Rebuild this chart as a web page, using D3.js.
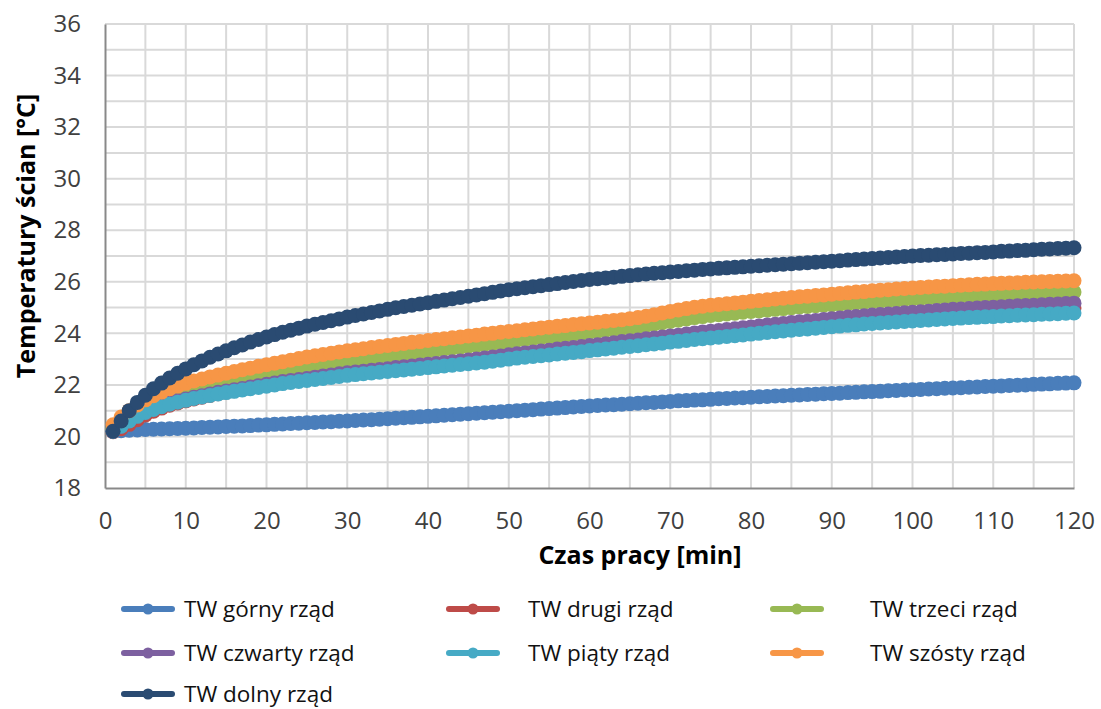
<!DOCTYPE html>
<html>
<head>
<meta charset="utf-8">
<script src="https://cdn.jsdelivr.net/npm/d3@7"></script>
<style>
  html, body { margin: 0; padding: 0; background: #fff; }
  svg { display: block; }
  text { font-family: "Open Sans", "Noto Sans", sans-serif; }
</style>
</head>
<body>
<svg id="chart" width="1101" height="709"></svg>
<script>
// ---- data ----
const minutes = d3.range(1, 121);
const gorny = [20.20,20.22,20.24,20.25,20.27,20.28,20.29,20.30,20.31,20.32,
20.33,20.35,20.36,20.37,20.39,20.40,20.41,20.42,20.44,20.45,
20.47,20.48,20.50,20.51,20.53,20.54,20.56,20.57,20.59,20.60,
20.62,20.64,20.65,20.67,20.69,20.71,20.73,20.74,20.76,20.78,
20.80,20.82,20.84,20.86,20.88,20.90,20.92,20.94,20.96,20.98,
21.00,21.02,21.04,21.06,21.08,21.10,21.12,21.14,21.16,21.18,
21.20,21.22,21.23,21.25,21.27,21.29,21.31,21.32,21.34,21.36,
21.38,21.39,21.41,21.42,21.44,21.46,21.47,21.49,21.50,21.52,
21.54,21.55,21.57,21.58,21.60,21.61,21.63,21.64,21.66,21.67,
21.68,21.70,21.71,21.73,21.74,21.75,21.77,21.78,21.80,21.81,
21.82,21.84,21.85,21.87,21.88,21.89,21.91,21.92,21.94,21.95,
21.96,21.98,21.99,22.00,22.02,22.03,22.04,22.06,22.07,22.08];
const drugi = [20.18,20.30,20.47,20.65,20.83,20.98,21.10,21.21,21.30,21.38,
21.45,21.52,21.59,21.66,21.72,21.77,21.83,21.88,21.93,21.98,
22.03,22.09,22.13,22.17,22.21,22.26,22.30,22.34,22.38,22.42,
22.45,22.48,22.52,22.55,22.58,22.61,22.64,22.67,22.70,22.73,
22.77,22.80,22.83,22.86,22.89,22.92,22.96,23.00,23.04,23.08,
23.12,23.15,23.19,23.22,23.25,23.29,23.32,23.35,23.39,23.43,
23.46,23.50,23.53,23.57,23.60,23.63,23.67,23.70,23.74,23.78,
23.81,23.84,23.88,23.92,23.95,23.98,24.01,24.04,24.08,24.11,
24.14,24.17,24.20,24.23,24.27,24.30,24.32,24.35,24.38,24.41,
24.43,24.47,24.49,24.52,24.54,24.56,24.58,24.60,24.63,24.65,
24.67,24.69,24.71,24.73,24.75,24.76,24.78,24.80,24.82,24.83,
24.85,24.86,24.88,24.89,24.90,24.92,24.94,24.95,24.97,24.98];
const trzeci = [20.30,20.55,20.80,21.01,21.20,21.35,21.48,21.60,21.70,21.79,
21.87,21.94,22.01,22.07,22.13,22.19,22.25,22.31,22.37,22.43,
22.50,22.56,22.61,22.66,22.71,22.76,22.80,22.85,22.90,22.94,
22.98,23.02,23.06,23.10,23.13,23.17,23.21,23.24,23.28,23.31,
23.36,23.39,23.43,23.46,23.50,23.53,23.57,23.60,23.64,23.68,
23.73,23.76,23.80,23.83,23.86,23.90,23.93,23.97,24.00,24.04,
24.08,24.12,24.15,24.19,24.22,24.26,24.31,24.36,24.41,24.46,
24.51,24.56,24.61,24.65,24.69,24.72,24.75,24.78,24.82,24.85,
24.87,24.90,24.93,24.96,24.99,25.02,25.04,25.07,25.09,25.11,
25.13,25.15,25.18,25.20,25.23,25.25,25.27,25.29,25.31,25.33,
25.35,25.37,25.39,25.40,25.42,25.44,25.45,25.47,25.49,25.50,
25.51,25.52,25.53,25.54,25.55,25.56,25.57,25.58,25.59,25.60];
const czwarty = [20.20,20.40,20.61,20.80,20.96,21.08,21.19,21.29,21.38,21.45,
21.52,21.58,21.65,21.71,21.76,21.81,21.86,21.92,21.97,22.02,
22.07,22.13,22.17,22.21,22.25,22.30,22.34,22.38,22.43,22.47,
22.50,22.53,22.57,22.60,22.63,22.67,22.70,22.73,22.77,22.80,
22.83,22.87,22.90,22.93,22.97,23.00,23.04,23.08,23.12,23.17,
23.21,23.24,23.28,23.31,23.34,23.39,23.42,23.45,23.49,23.53,
23.56,23.60,23.63,23.68,23.71,23.74,23.79,23.82,23.86,23.90,
23.93,23.97,24.01,24.05,24.08,24.11,24.15,24.18,24.22,24.25,
24.28,24.32,24.35,24.38,24.42,24.45,24.47,24.50,24.54,24.57,
24.59,24.63,24.65,24.68,24.71,24.73,24.75,24.77,24.80,24.82,
24.84,24.86,24.89,24.91,24.93,24.94,24.96,24.98,25.00,25.01,
25.03,25.05,25.07,25.08,25.09,25.11,25.13,25.14,25.16,25.17];
const piaty = [20.20,20.40,20.60,20.78,20.93,21.05,21.15,21.25,21.33,21.40,
21.47,21.53,21.59,21.65,21.70,21.75,21.80,21.85,21.90,21.95,
22.00,22.05,22.09,22.13,22.17,22.21,22.25,22.29,22.33,22.37,
22.40,22.43,22.46,22.49,22.52,22.55,22.58,22.61,22.64,22.67,
22.70,22.73,22.76,22.79,22.82,22.85,22.88,22.92,22.96,23.00,
23.04,23.07,23.10,23.13,23.16,23.20,23.23,23.26,23.29,23.33,
23.36,23.39,23.42,23.46,23.49,23.52,23.56,23.59,23.62,23.66,
23.69,23.72,23.76,23.79,23.82,23.85,23.88,23.91,23.94,23.97,
24.00,24.03,24.06,24.09,24.12,24.15,24.17,24.20,24.23,24.26,
24.28,24.31,24.33,24.36,24.38,24.40,24.42,24.44,24.46,24.48,
24.50,24.52,24.54,24.56,24.58,24.59,24.61,24.62,24.64,24.65,
24.67,24.68,24.70,24.71,24.72,24.74,24.75,24.76,24.78,24.79];
const szosty = [20.45,20.75,21.00,21.22,21.42,21.58,21.72,21.85,21.96,22.06,
22.15,22.23,22.31,22.38,22.45,22.52,22.59,22.65,22.72,22.78,
22.84,22.90,22.96,23.02,23.08,23.13,23.18,23.23,23.28,23.32,
23.36,23.40,23.45,23.49,23.53,23.57,23.61,23.65,23.68,23.72,
23.76,23.79,23.83,23.86,23.90,23.93,23.97,24.00,24.04,24.07,
24.10,24.14,24.17,24.21,24.24,24.27,24.30,24.34,24.37,24.40,
24.43,24.47,24.50,24.53,24.57,24.61,24.66,24.72,24.79,24.85,
24.91,24.96,25.01,25.05,25.09,25.12,25.15,25.18,25.21,25.24,
25.27,25.30,25.33,25.36,25.39,25.42,25.44,25.47,25.49,25.52,
25.55,25.57,25.60,25.62,25.65,25.67,25.69,25.72,25.74,25.76,
25.78,25.80,25.82,25.83,25.85,25.87,25.88,25.90,25.91,25.93,
25.94,25.95,25.96,25.98,25.99,26.00,26.01,26.02,26.03,26.04];
const dolny = [20.20,20.60,21.00,21.32,21.60,21.85,22.07,22.27,22.45,22.62,
22.78,22.93,23.07,23.20,23.32,23.44,23.55,23.66,23.76,23.86,
23.95,24.04,24.12,24.20,24.28,24.35,24.42,24.49,24.56,24.63,
24.69,24.75,24.81,24.87,24.93,24.99,25.04,25.09,25.14,25.19,
25.24,25.29,25.34,25.39,25.44,25.49,25.54,25.59,25.64,25.69,
25.73,25.77,25.81,25.85,25.89,25.93,25.97,26.01,26.05,26.09,
26.12,26.15,26.18,26.21,26.24,26.27,26.30,26.33,26.35,26.38,
26.40,26.43,26.45,26.48,26.50,26.52,26.54,26.56,26.58,26.60,
26.62,26.64,26.66,26.68,26.70,26.72,26.74,26.76,26.78,26.80,
26.82,26.84,26.86,26.88,26.90,26.92,26.94,26.96,26.98,27.00,
27.02,27.03,27.05,27.06,27.08,27.10,27.11,27.13,27.14,27.16,
27.18,27.19,27.21,27.22,27.24,27.26,27.27,27.29,27.30,27.32];

const seriesNames = ["TW górny rząd","TW drugi rząd","TW trzeci rząd","TW czwarty rząd","TW piąty rząd","TW szósty rząd","TW dolny rząd"];
const seriesValues = [gorny, drugi, trzeci, czwarty, piaty, szosty, dolny];
const seriesColors = ["#4a7ebb","#be4b48","#98b954","#7d60a0","#46aac5","#f79646","#2a4b72"];
const xTicks = [0,10,20,30,40,50,60,70,80,90,100,110,120];
const yTicks = [18,20,22,24,26,28,30,32,34,36];
const xTitle = "Czas pracy [min]";
const yTitle = "Temperatury ścian [°C]";

// ---- layout ----
const svg = d3.select("#chart");
const L = 105, R = 1074, T = 24, B = 488;
const x = d3.scaleLinear().domain([0, 120]).range([L, R]);
const y = d3.scaleLinear().domain([18, 36]).range([B, T]);

// gridlines
const grid = svg.append("g");
grid.selectAll("line.v").data(d3.range(5, 121, 5)).join("line")
  .attr("x1", d => x(d)).attr("x2", d => x(d)).attr("y1", T).attr("y2", B)
  .attr("stroke", "#d9d9d9").attr("stroke-width", 2);
grid.selectAll("line.h").data(d3.range(19, 37, 1)).join("line")
  .attr("x1", L).attr("x2", R).attr("y1", d => y(d)).attr("y2", d => y(d))
  .attr("stroke", "#d9d9d9").attr("stroke-width", 2);

// axes
const xAxis = d3.axisBottom(x).tickValues(xTicks).tickSize(0).tickPadding(24);
const gx = svg.append("g").attr("transform", `translate(0,${B})`).call(xAxis);
gx.select(".domain").attr("stroke", "#898989").attr("stroke-width", 2);
gx.selectAll("text").attr("font-size", 24).attr("fill", "#404040")
  .attr("font-family", "'Open Sans', sans-serif");

const yAxis = d3.axisLeft(y).tickValues(yTicks).tickSize(0).tickPadding(24);
const gy = svg.append("g").attr("transform", `translate(${L},0)`).call(yAxis);
gy.select(".domain").attr("stroke", "#898989").attr("stroke-width", 2);
gy.selectAll("text").attr("font-size", 24).attr("fill", "#404040")
  .attr("font-family", "'Open Sans', sans-serif");

// axis titles
svg.append("text").attr("x", 640).attr("y", 564).attr("text-anchor", "middle")
  .attr("font-size", 25).attr("font-weight", "bold").attr("fill", "#000").text(xTitle);
svg.append("text").attr("transform", "translate(35,236) rotate(-90)").attr("text-anchor", "middle")
  .attr("font-size", 25).attr("font-weight", "bold").attr("fill", "#000").text(yTitle);

// series
const line = d3.line().x((d, i) => x(minutes[i])).y(d => y(d));
const plot = svg.append("g");
seriesValues.forEach((vals, si) => {
  const g = plot.append("g");
  g.append("path").datum(vals).attr("d", line)
    .attr("fill", "none").attr("stroke", seriesColors[si]).attr("stroke-width", 6);
  g.selectAll("circle").data(vals).join("circle")
    .attr("cx", (d, i) => x(minutes[i])).attr("cy", d => y(d)).attr("r", 7.5)
    .attr("fill", seriesColors[si]);
});

// legend
const legPos = [[121,609],[446,609],[770,609],[121,653],[446,653],[770,653],[121,694]];
const legTextX = [184, 528, 870];
const leg = svg.append("g");
seriesNames.forEach((name, i) => {
  const [lx, ly] = legPos[i];
  const col = i % 3;
  leg.append("line").attr("x1", lx + 3).attr("x2", lx + 51).attr("y1", ly).attr("y2", ly)
    .attr("stroke", seriesColors[i]).attr("stroke-width", 6).attr("stroke-linecap", "round");
  leg.append("circle").attr("cx", lx + 27).attr("cy", ly).attr("r", 5.5).attr("fill", seriesColors[i]);
  leg.append("text").attr("x", legTextX[col]).attr("y", ly).attr("dy", "0.35em")
    .attr("font-size", 22.5).attr("fill", "#111").text(name);
});
</script>
</body>
</html>
